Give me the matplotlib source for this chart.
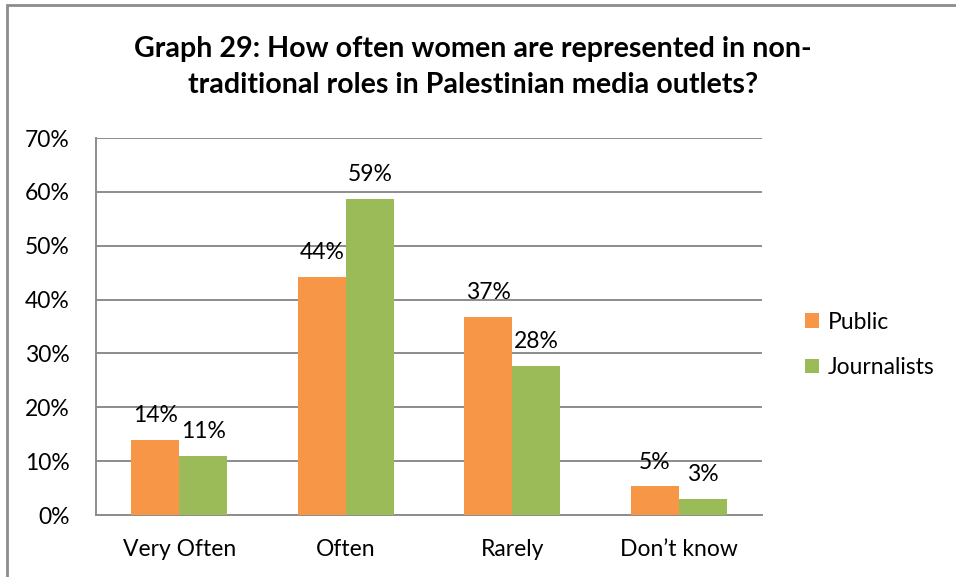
import matplotlib
matplotlib.use("Agg")
import matplotlib.pyplot as plt
import numpy as np
from matplotlib.patches import Rectangle

categories = ["Very Often", "Often", "Rarely", "Don\u2019t know"]
public = [14.0, 44.2, 36.8, 5.3]
journalists = [11.0, 58.7, 27.6, 3.0]
series_names = ["Public", "Journalists"]
yticks = [0, 10, 20, 30, 40, 50, 60, 70]

plt.rcParams['font.family'] = ['Lato', 'DejaVu Sans']
FS = 16.5

fig = plt.figure(figsize=(9.56, 5.77), dpi=100)
ax = fig.add_axes([96/956, 1-515/577, (762-96)/956, (515-138)/577])

x = np.arange(len(categories))
w = 0.288
orange = "#F79646"
green = "#9BBB59"
b1 = ax.bar(x - w/2, public, w, color=orange, label=series_names[0], zorder=3)
b2 = ax.bar(x + w/2, journalists, w, color=green, label=series_names[1], zorder=3)

for bars, vals in ((b1, public), (b2, journalists)):
    for rect, v in zip(bars, vals):
        ax.annotate(f"{v:.0f}%", (rect.get_x() + rect.get_width()/2, v),
                    xytext=(0, 10), textcoords="offset points",
                    ha="center", va="bottom", fontsize=FS, color="black")

ax.set_xlim(-0.5, len(categories) - 0.5)
ax.set_ylim(0, 70)
ax.set_yticks(yticks)
ax.set_yticklabels([f"{t}%" for t in yticks], fontsize=FS)
ax.set_xticks(x)
ax.set_xticklabels(categories, fontsize=FS)
ax.tick_params(axis='y', length=0, pad=19)
ax.tick_params(axis='x', length=0, pad=17)
ax.grid(axis='y', color="#8C8C8C", linewidth=1.4, zorder=0)
for s in ["top", "right"]:
    ax.spines[s].set_visible(False)
for s in ["left", "bottom"]:
    ax.spines[s].set_color("#8C8C8C")
    ax.spines[s].set_linewidth(1.4)

leg = fig.legend(handles=[b1, b2], labels=series_names, loc="center left",
                 bbox_to_anchor=(784/956, 1-345/577), frameon=False,
                 fontsize=FS, handlelength=0.62, handleheight=0.62,
                 handletextpad=0.4, labelspacing=1.05)

fig.text(473/956, 1-67/577, "Graph 29: How often women are represented in non-\ntraditional roles in Palestinian media outlets?",
         ha="center", va="center", fontsize=20.6, fontweight="bold", linespacing=1.45)

fig.patches.append(Rectangle((7/956, -0.01), 1.0, 1 - 5/577 + 0.01, transform=fig.transFigure,
                             fill=False, edgecolor="#8C8C8C", linewidth=2))

fig.savefig("out.png", dpi=100)
